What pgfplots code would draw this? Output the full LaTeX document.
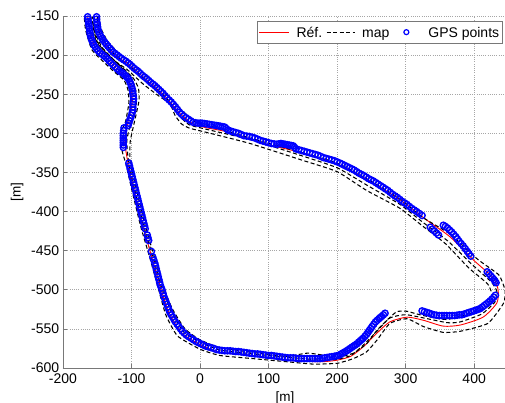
\documentclass[border=0pt]{standalone}
\usepackage{pgfplots}
\pgfplotsset{compat=1.18}
\usepackage{fontspec}
\setmainfont{Liberation Sans}
\definecolor{axgray}{RGB}{120,120,120}
\begin{document}
\begin{tikzpicture}[x=1pt,y=1pt]
\path[use as bounding box] (-63pt,-35pt) rectangle (442pt,368pt);
\begin{axis}[
  scale only axis, width=442pt, height=352pt,
  xmin=-200, xmax=445, ymin=-600, ymax=-150,
  xtick={-200,-100,0,100,200,300,400},
  ytick={-600,-550,-500,-450,-400,-350,-300,-250,-200,-150},
  axis x line*=bottom, axis y line*=left,
  axis line style={draw=axgray,-,line width=0.8pt},
  tick style={draw=axgray,line width=0.6pt},
  tick align=inside, major tick length=4pt,
  xmajorgrids, ymajorgrids,
  grid style={draw=black!35,line width=0.7pt,dash pattern=on 0.7pt off 1.5pt},
  /pgf/number format/assume math mode=true,
  /pgf/number format/set thousands separator={},
  tick label style={font=\fontsize{14}{16}\selectfont,inner sep=0pt},
  xticklabel style={yshift=-5.6pt},
  yticklabel style={xshift=-3.6pt},
  label style={font=\fontsize{13.5}{15}\selectfont},
  xlabel={[m]}, ylabel={[m]},
  xlabel style={at={(axis description cs:0.5,0)},anchor=north,yshift=-20pt,xshift=1pt},
  ylabel style={at={(axis description cs:0,0.5)},anchor=south,yshift=36pt},
  clip=true,
  legend columns=3,
  legend cell align=left,
  legend style={at={(0.9945,0.986)},anchor=north east,draw=axgray,line width=0.8pt,
    font=\fontsize{14}{16}\selectfont,inner xsep=1pt,inner ysep=2pt,
    /tikz/every even column/.append style={column sep=2pt},
    /tikz/every odd column/.append style={column sep=5pt}},
]
\addlegendimage{legend image code/.code={\draw[red,line width=0.8pt] (0pt,0pt) -- (30pt,0pt);}}
\addlegendentry{Réf.\vphantom{Ép}}
\addlegendimage{legend image code/.code={\draw[black,line width=0.9pt,dash pattern=on 4pt off 2.5pt] (0pt,0pt) -- (28pt,0pt);}}
\addlegendentry{map\vphantom{Ép}}
\addlegendimage{legend image code/.code={\draw[draw=none] (0pt,0pt) -- (28pt,0pt);\draw[blue,line width=1.2pt] (13pt,0pt) circle (2.5pt);}}
\addlegendentry{GPS points\vphantom{Ép}}

\addplot[forget plot,only marks,blue,mark=o,mark size=3.1pt,line width=1.4pt] coordinates {
(-151,-151)(-150.5,-158)(-149.5,-164)(-148,-170)(-145,-176)(-141.5,-181)(-137,-186)(-132,-191)(-127,-196)(-121,-200)(-115,-204)(-108,-208)(-102,-212)(-96,-217)(-90,-221)(-84,-226)(-78,-230)(-72,-235)(-66,-239)(-60,-244)(-54,-249)(-48,-255)(-42,-260)(-36,-266)(-30,-273)(-24,-278)(-17,-282)(-10,-286)(-3,-287)
(3,-287)(10,-288)(17,-289)(24,-290)(30,-291)(36,-292)(41,-296)(48,-298)(56,-300)(64,-303)(72,-304)(80,-306)(88,-309)(96,-311)
(104,-313)(112,-314)(118,-313)(124,-314)(130,-315)(136,-316)(140,-320)(148,-322)(156,-324)(164,-326)(172,-328)(180,-331)(188,-333)(196,-335)(204,-338)(211,-341)(218,-344)(225,-347)(232,-351)(239,-354)(246,-358)(253,-361)(260,-365)(267,-369)(274,-373)(281,-378)(288,-382)(295,-387)(302,-391)(309,-396)(316,-400)(324,-405)
(336,-420)(342,-425)(348,-430)
(355,-417.5)(361,-421)(367,-426)(373,-432)(378,-438)(384,-444)(390,-451)(395,-457)
(419,-477)(424,-482)(429,-487)(432,-491)
(431,-507)(426,-512)(421,-516)(415,-520)(409,-524)(403,-526)(396,-528)(389,-530)(382,-532)(375,-532.5)(368,-533)(360,-533)(353,-533)(345,-532.5)(338,-531)(331,-529)(324,-527)
(270,-530)(265,-534)(261,-537)(256,-541)(251,-547)(247,-552)(243,-557)(238,-562)(234,-565)(229,-569)(224,-572)(219,-575)(214,-578)(208,-581)(202,-584)(196,-585)(189,-586)(182,-587)(175,-588)(168,-588)(160,-588)(152,-588)(144,-588)(136,-587)(128,-587)(120,-586)(112,-585)(104,-584)(96,-583.5)(88,-582.5)(80,-582)(72,-581)(64,-580)(56,-579)(48,-578.5)(40,-578)(32,-577.5)(24,-576.5)(16,-574)(8,-572)(1,-569)(-6,-566)(-13,-562)(-20,-558)(-26,-553)(-31,-547)(-36,-541)(-40,-535)(-44,-529)(-47,-522)(-50,-515)(-53,-508)(-55,-501)(-58,-494)(-60,-487)(-62,-480)(-64,-473)(-66,-466)(-69,-458)
(-71,-451)(-75,-437)(-77,-430)(-80,-422)(-82,-415)(-84,-408)(-86,-401)(-88,-394)(-90,-387)(-92,-380)(-94,-373)(-96,-366)(-98,-359)(-100,-352)(-102,-345)(-104,-338)
(-112,-318)(-112,-312)(-112,-306)(-112,-300)(-111,-293)
(-105,-290)(-103,-284)(-100,-277)(-98,-270)(-98,-263)(-97,-256)(-98,-249)(-99,-243)(-101,-237)(-104,-231)(-108,-227)(-113,-223)(-118,-220)(-124,-215)(-130,-210)(-135,-205)(-140,-201)(-146,-197)(-151,-192)(-155,-187)(-158,-181)(-160,-175)(-161,-169)(-162,-163)(-163,-157)(-164,-151)
};
\addplot[forget plot,only marks,blue,mark=o,mark size=3.1pt,line width=1.4pt] coordinates {
(-151,-154)(-150,-161)(-149,-167)(-146.5,-173)(-143,-178.5)(-139,-183.5)(-134.5,-188.5)(-129.5,-193.5)(-124,-198)(-118,-202)(-111.5,-206)(-105,-210)(-99,-214.5)(-93,-219)(-87,-223.5)(-81,-228)(-75,-232.5)(-69,-237)(-63,-241.5)(-57,-246.5)(-51,-252)(-45,-257.5)(-39,-263)(-33,-269.5)(-27,-275.5)(-20.5,-280)(-13.5,-284)(-6.5,-286.5)
(0,-287)(6.5,-287.5)(13.5,-288.5)(20.5,-289.5)(27,-290.5)(33,-291.5)(38.5,-294)(44.5,-297)(52,-299)(60,-301.5)(68,-303.5)(76,-305)(84,-307.5)(92,-310)
(100,-312)(108,-313.5)(115,-313.5)(121,-313.5)(127,-314.5)(133,-315.5)(138,-318)(144,-321)(152,-323)(160,-325)(168,-327)(176,-329.5)(184,-332)(192,-334)(200,-336.5)(207.5,-339.5)(214.5,-342.5)(221.5,-345.5)(228.5,-349)(235.5,-352.5)(242.5,-356)(249.5,-359.5)(256.5,-363)(263.5,-367)(270.5,-371)(277.5,-375.5)(284.5,-380)(291.5,-384.5)(298.5,-389)(305.5,-393.5)(312.5,-398)(320,-402.5)
(339,-422.5)(345,-427.5)
(358,-419)(364,-423.5)(370,-429)(375.5,-435)(381,-441)(387,-447.5)(392.5,-454)
(421.5,-479.5)(426.5,-484.5)(430.5,-489)
(428.5,-509.5)(423.5,-514)(418,-518)(412,-522)(406,-525)(399.5,-527)(392.5,-529)(385.5,-531)(378.5,-532)(371.5,-533)(364,-533)(356.5,-533)(349,-533)(341.5,-532)(334.5,-530)(327.5,-528)
(267.5,-532)(263,-535.5)(258.5,-539)(253.5,-544)(249,-549.5)(245,-554.5)(240.5,-559.5)(236,-563.5)(231.5,-567)(226.5,-570.5)(221.5,-573.5)(216.5,-576.5)(211,-579.5)(205,-582.5)(199,-584.5)(192.5,-585.5)(185.5,-586.5)(178.5,-587.5)(171.5,-588)(164,-588)(156,-588)(148,-588)(140,-587.5)(132,-587)(124,-586.5)(116,-585.5)(108,-584.5)(100,-584)(92,-583)(84,-582)(76,-581.5)(68,-580.5)(60,-579.5)(52,-579)(44,-578)(36,-578)(28,-577)(20,-575)(12,-573)(4.5,-570.5)(-2.5,-567.5)(-9.5,-564)(-16.5,-560)(-23,-555.5)(-28.5,-550)(-33.5,-544)(-38,-538)(-42,-532)(-45.5,-525.5)(-48.5,-518.5)(-51.5,-511.5)(-54,-504.5)(-56.5,-497.5)(-59,-490.5)(-61,-483.5)(-63,-476.5)(-65,-469.5)(-67.5,-462)
(-76,-433.5)(-81,-418.5)(-83,-411.5)(-85,-404.5)(-87,-397.5)(-89,-390.5)(-91,-383.5)(-93,-376.5)(-95,-369.5)(-97,-362.5)(-99,-355.5)(-101,-348.5)(-103,-341.5)
(-112,-315)(-112,-309)(-112,-303)(-111.5,-296.5)
(-104,-287)(-101.5,-280.5)(-99,-273.5)(-98,-266.5)(-97.5,-259.5)(-97.5,-252.5)(-98.5,-246)(-100,-240)(-102.5,-234)(-106,-229)(-110.5,-225)(-115.5,-221.5)(-121,-217.5)(-127,-212.5)(-132.5,-207.5)(-137.5,-203)(-143,-199)(-148.5,-194.5)(-153,-189.5)(-156.5,-184)(-159,-178)(-160.5,-172)(-161.5,-166)(-162.5,-160)(-163.5,-154)
};

% Reference
\addplot[forget plot,red,line width=0.9pt,smooth,tension=0.4] coordinates {
(-150,-151)(-148,-168)(-138,-186)(-121,-202)(-102,-213)(-78,-232)(-53,-251)(-29,-275)(-10,-288)(10,-293)(34,-297)(73,-307)(97,-314)(131,-321)(165,-329)(200,-339)(234,-354)(263,-369)(292,-385)(331,-411)(365,-432.5)(399,-462)(428,-485)(435,-500.5)(433,-517)(413,-535)(380,-545)(355,-546.5)(326,-539)(302,-535)(277,-541)(258,-555.5)(238,-573)(220,-585)(200,-590)(175,-592)(126,-590)(77,-584)(29,-580)(0,-570)(-27,-555)(-46,-528)(-58,-496)(-70.5,-458)(-83,-420)(-95,-377)(-105,-339)(-110,-309)(-106,-288)(-99,-262)(-100,-245)(-106,-230)(-122,-217)(-139,-202)(-153,-190)(-161,-168)(-164,-151)
};

% Map: right-hand edge
\addplot[forget plot,black,line width=1.05pt,dash pattern=on 4pt off 2.5pt,smooth,tension=0.3] coordinates {
(-156,-151)(-154,-170)(-143,-190)(-125,-207)(-107,-218)(-83,-237)(-59,-253)(-44,-262)(-36.5,-277)(-27,-288)(-15,-293.5)(15,-300)(73,-313)(146,-333.5)(200,-349)(243,-373)(292,-396)(324,-418)(358,-441)(392,-472)(420,-493)(428,-513)(409,-526)(360,-538)(321,-532)(302,-527.5)(287,-528)(272.6,-539)(258,-552)(243,-569)(224,-581)(200,-586)(158,-581)(126,-585)(77,-580)(29,-574)(0,-564)(-22,-550)(-40,-525)(-55,-494)(-67,-457)(-80,-418)(-92,-375)(-102,-337)(-102,-311)(-97.5,-292)(-89,-258)(-90,-242)(-97,-230)(-109.5,-219)(-125,-207)(-139,-196)(-150,-183)(-155,-168)(-158,-151)
};
% Map: centre
\addplot[forget plot,black,line width=1.05pt,dash pattern=on 4pt off 2.5pt,smooth,tension=0.3] coordinates {
(-150,-151)(-147,-170)(-136,-188)(-119,-204)(-100,-216)(-76,-235)(-50,-254)(-31,-277)(-16,-289)(10,-295)(73,-308)(146,-328)(200,-344)(243,-366)(292,-391)(324,-413)(362,-438)(396,-467)(425,-490)(433,-502)(430,-516)(411,-531)(380,-541)(360,-542)(302,-532)(277,-536)(258,-553)(238,-571)(220,-584)(200,-589)(175,-590)(126,-586)(77,-582)(29,-577)(0,-567)(-25,-553)(-43,-526)(-57,-495)(-69,-457)(-82,-419)(-94,-377)(-104,-338)(-107,-310)(-102,-290)(-93,-262)(-94,-244)(-101,-228)(-118,-213)(-135,-198)(-149,-186)(-158,-168)(-161,-151)
};
% Map: left-hand edge
\addplot[forget plot,black,line width=1.05pt,dash pattern=on 4pt off 2.5pt,smooth,tension=0.3] coordinates {
(-147,-151)(-145,-165)(-135,-182)(-118,-198)(-100,-210)(-75,-229)(-50,-249)(-27,-270)(-8,-285)(12,-290)(73,-306)(146,-324)(200,-338)(243,-358)(292,-384)(324,-407)(365,-429)(405,-461)(436,-481)(445,-500.5)(443,-517)(420,-543)(380,-553)(355,-554.5)(326,-547)(302,-537)(277,-543)(258,-564.5)(243,-579.4)(223.6,-588)(200,-594)(165,-595)(126.5,-592)(77,-588)(29,-584)(0,-576)(-33,-559)(-50,-532)(-61,-498)(-73,-460)(-86,-421)(-98,-378)(-108,-340)(-114,-321.6)(-116,-300)(-109,-286)(-104,-262)(-105,-245)(-111,-232)(-127,-220)(-144,-206)(-158,-193)(-167,-168)(-169,-151)
};
\end{axis}
\end{tikzpicture}
\end{document}
